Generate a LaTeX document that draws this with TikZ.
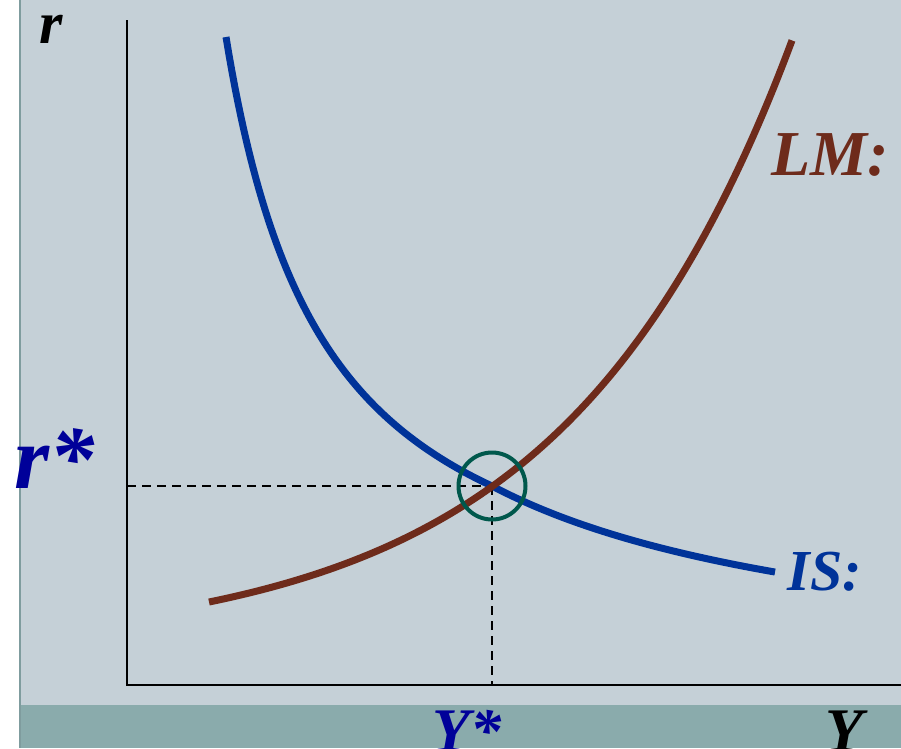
\documentclass[tikz,border=0pt]{standalone}
\usepackage{fontspec}
\setmainfont{Liberation Serif}

\definecolor{panel}{HTML}{C5D0D7}
\definecolor{band}{HTML}{8AABAC}
\definecolor{rim}{HTML}{7F9C9E}
\definecolor{isblue}{HTML}{003399}
\definecolor{lmbrown}{HTML}{6E2B1B}
\definecolor{eqteal}{HTML}{00584C}
\definecolor{starblue}{HTML}{000099}

\begin{document}
\begin{tikzpicture}[
    x=1pt, y=-1pt,
    axis/.style={line width=2pt, black},
    guide/.style={line width=1.8pt, black, dash pattern=on 9pt off 6pt},
    curve/.style={line width=7pt},
    ring/.style={circle, draw=eqteal, line width=4pt, minimum size=67pt, inner sep=0pt},
    lbl/.style={inner sep=0pt, anchor=base, font=\fontsize{#1}{#1}\selectfont\bfseries\itshape}
]

    \def\ox{127}  
    \def\oy{685} 
    \def\ex{492}  
    \def\ey{486}

    \useasboundingbox (0,0) rectangle (901,748);

    % panel and bottom band
    \fill[panel] (20,0) rectangle (901,705);
    \fill[band] (20,705) rectangle (901,748);
    \draw[rim, line width=2pt] (20,0) -- (20,748);

    \coordinate (O) at (\ox,\oy);
    \coordinate (E) at (\ex,\ey);
    \coordinate (Rtop) at (\ox,20);
    \coordinate (Yend) at (901,\oy);
    \coordinate (Rstar) at (\ox,\ey);
    \coordinate (Ystar) at (\ex,\oy);

    \draw[axis] (Rtop) -- (O) -- (Yend);

    \draw[guide] (Rstar) -- (E);
    \draw[guide] (E) -- (Ystar);

    % IS curve, two hyperbola pieces meeting at E
    \draw[curve, isblue, line join=round]
        plot[domain=226:\ex, samples=90] (\x, {656.5 - 625.7*(100/(\x-125))})
        -- plot[domain=\ex:775, samples=60] (\x, {689.57 - 787*(100/(\x-105.4))});

    % LM curve
    \draw[curve, lmbrown]
        plot[domain=209:792, samples=120] (\x, {648.5 - 18.5*exp(0.004417*\x)});

    \node[ring] (eq) at (E) {};

    \node[lbl=60] (rlab) at (51,43) {r};
    \node[lbl=90, text=starblue] (rstarlab) at (55,488) {r*};
    \node[lbl=64, text=lmbrown] (lmlab) at (830,175) {LM:};
    \node[lbl=58, text=isblue] (islab) at (825,590) {IS:};
    \node[lbl=62, text=starblue] (ystarlab) at (467,751) {Y*};
    \node[lbl=62] (ylab) at (844,751) {Y};

\end{tikzpicture}
\end{document}
